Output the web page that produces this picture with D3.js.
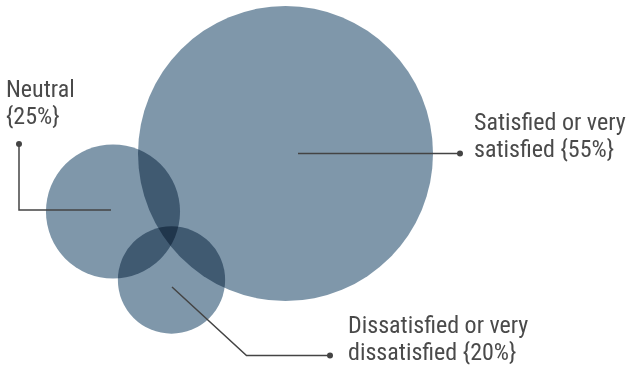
<!DOCTYPE html>
<html><head><meta charset="utf-8">
<script src="https://cdn.jsdelivr.net/npm/d3@7"></script>
<style>
html,body{margin:0;padding:0;background:#fff;}
svg{display:block;}
.lbl{font-family:"Liberation Sans Narrow","Roboto Condensed","DejaVu Sans Condensed","Liberation Sans",sans-serif;font-stretch:condensed;fill:#4a4a4a;font-size:24px;}
</style></head>
<body>
<svg id="chart" width="628" height="366"></svg>
<script>
// ---- data ----
const categories = ["Satisfied or very satisfied", "Neutral", "Dissatisfied or very dissatisfied"];
const values = [55, 25, 20];
const labelLines = [["Satisfied or very", "satisfied {55%}"], ["Neutral", "{25%}"], ["Dissatisfied or very", "dissatisfied {20%}"]];

// ---- layout (not data) ----
const centers = [[285.5, 153.5], [113, 211.5], [171.5, 280]];
const labelPos = [[474, 130], [6, 97], [348, 333]];
const lineHeight = 27;
const leaders = [
  [[298, 153.5], [460, 153.5]],
  [[111, 210], [19, 210], [19, 144]],
  [[172, 287], [246.5, 355.5], [330, 355.5]]
];

const svg = d3.select("#chart");
const r = d3.scaleLinear().domain([0, 55]).range([0, 147.5]);

svg.append("g").selectAll("circle").data(values).join("circle")
  .attr("cx", (d, i) => centers[i][0])
  .attr("cy", (d, i) => centers[i][1])
  .attr("r", d => r(d))
  .attr("fill", "#7f97aa")
  .style("mix-blend-mode", "multiply");

const line = d3.line();
const lg = svg.append("g");
lg.selectAll("path").data(leaders).join("path")
  .attr("d", d => line(d))
  .attr("fill", "none")
  .attr("stroke", "#444")
  .attr("stroke-width", 1.5);
lg.selectAll("circle").data(leaders).join("circle")
  .attr("cx", d => d[d.length - 1][0])
  .attr("cy", d => d[d.length - 1][1])
  .attr("r", 3)
  .attr("fill", "#444");

const tg = svg.append("g");
labelLines.forEach((lines, i) => {
  const t = tg.append("text").attr("class", "lbl")
    .attr("x", labelPos[i][0]).attr("y", labelPos[i][1]);
  lines.forEach((s, j) => {
    t.append("tspan").attr("x", labelPos[i][0]).attr("dy", j === 0 ? 0 : lineHeight).text(s);
  });
});
</script>
</body></html>
